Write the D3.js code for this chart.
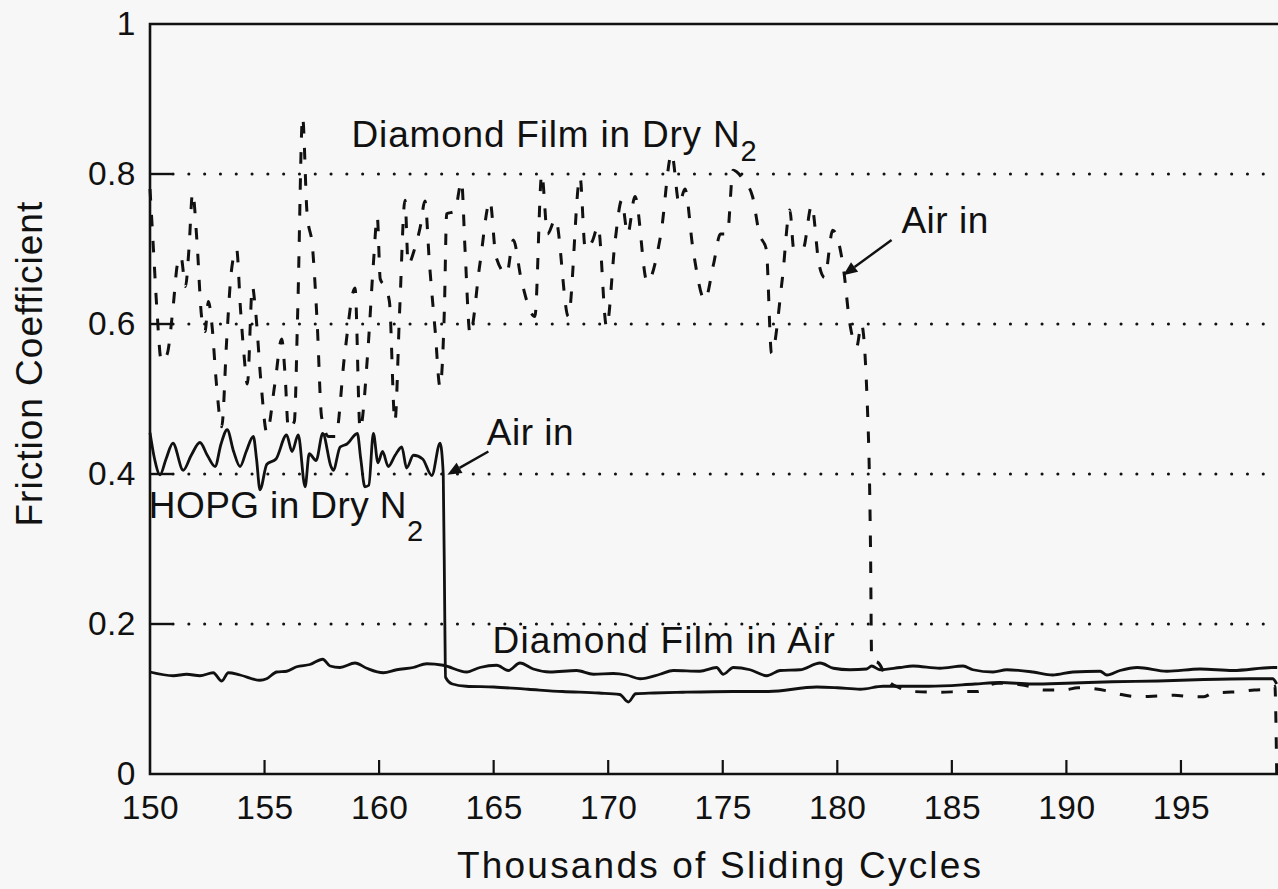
<!DOCTYPE html>
<html>
<head>
<meta charset="utf-8">
<script src="https://cdn.jsdelivr.net/npm/d3@7"></script>
<style>
  html, body { margin: 0; padding: 0; background: #f7f7f7; }
  svg { display: block; }
  text { font-family: "Liberation Sans", Arial, Helvetica, sans-serif; fill: #111; }
</style>
</head>
<body>
<svg id="chart" width="1278" height="889"></svg>
<script>
// Friction coefficient vs. thousands of sliding cycles

// Diamond film tested in dry nitrogen, then air let in (~181.5k cycles)
const diamondN2 = [
  [150.0,0.78],[150.15,0.70],[150.3,0.62],[150.5,0.55],[150.75,0.56],[151.0,0.62],[151.2,0.68],
  [151.35,0.69],[151.55,0.65],[151.7,0.70],[151.86,0.775],[152.05,0.71],[152.25,0.61],[152.4,0.59],
  [152.55,0.63],[152.7,0.60],[152.9,0.52],[153.13,0.463],[153.35,0.58],[153.55,0.67],[153.78,0.70],
  [153.95,0.62],[154.1,0.56],[154.25,0.52],[154.47,0.65],[154.6,0.62],[154.85,0.52],[155.1,0.455],
  [155.45,0.52],[155.75,0.58],[155.9,0.53],[156.04,0.46],[156.3,0.47],[156.45,0.62],[156.66,0.876],
  [156.85,0.75],[157.1,0.70],[157.3,0.60],[157.49,0.476],[157.8,0.45],[158.1,0.45],[158.5,0.56],
  [158.95,0.648],[159.17,0.46],[159.5,0.56],[159.75,0.68],[159.92,0.743],[160.05,0.66],[160.25,0.65],
  [160.45,0.63],[160.69,0.47],[160.9,0.62],[161.13,0.765],[161.27,0.68],[161.55,0.70],[161.8,0.73],
  [162.0,0.764],[162.2,0.68],[162.45,0.59],[162.66,0.516],[162.85,0.62],[162.95,0.747],[163.3,0.75],
  [163.6,0.79],[163.75,0.70],[163.97,0.587],[164.4,0.68],[164.84,0.764],[165.1,0.69],[165.57,0.667],
  [165.86,0.712],[166.2,0.66],[166.8,0.61],[167.1,0.80],[167.35,0.72],[167.7,0.74],[168.26,0.61],
  [168.77,0.796],[169.0,0.70],[169.3,0.71],[169.56,0.73],[169.93,0.596],[170.3,0.71],[170.59,0.765],
  [170.85,0.72],[171.17,0.77],[171.7,0.656],[172.3,0.72],[172.77,0.827],[173.1,0.76],[173.35,0.78],
  [173.7,0.70],[174.22,0.632],[174.6,0.68],[174.9,0.72],[175.2,0.72],[175.45,0.805],[175.95,0.79],
  [176.3,0.77],[176.6,0.72],[176.9,0.70],[177.13,0.561],[177.6,0.66],[177.93,0.752],[178.1,0.70],
  [178.5,0.70],[178.88,0.758],[179.2,0.68],[179.45,0.662],[179.8,0.725],[180.26,0.676],[180.55,0.60],
  [180.85,0.57],[181.05,0.60],[181.3,0.50],[181.45,0.30],[181.5,0.152],[181.8,0.148],[182.2,0.125],
  [182.7,0.115],[183.3,0.110],[184.5,0.109],[185.5,0.110],[186.1,0.110],[186.6,0.118],[187.0,0.121],
  [188.0,0.119],[188.5,0.116],[189.0,0.112],[189.9,0.112],[190.5,0.115],[191.1,0.114],[191.9,0.110],
  [192.4,0.106],[193.2,0.103],[194.0,0.104],[194.7,0.105],[195.5,0.103],[196.0,0.103],[196.4,0.108],
  [197.0,0.109],[197.6,0.110],[198.2,0.112],[198.8,0.113],[199.1,0.117],[199.18,0.0]
];

// HOPG tested in dry nitrogen, then air let in (~162.9k cycles)
const hopgN2 = [
  [150.0,0.455],[150.2,0.42],[150.44,0.399],[150.7,0.42],[151.0,0.441],[151.45,0.405],[151.8,0.425],
  [152.18,0.442],[152.5,0.425],[152.84,0.41],[153.1,0.44],[153.37,0.459],[153.65,0.43],[153.93,0.41],
  [154.2,0.43],[154.51,0.45],[154.65,0.42],[154.8,0.379],[155.1,0.413],[155.5,0.42],[155.96,0.452],
  [156.2,0.43],[156.47,0.452],[156.77,0.383],[156.95,0.427],[157.25,0.418],[157.54,0.454],[157.9,0.41],
  [158.0,0.405],[158.3,0.436],[158.6,0.44],[159.05,0.454],[159.2,0.42],[159.38,0.383],[159.55,0.385],
  [159.75,0.454],[159.95,0.415],[160.15,0.43],[160.4,0.41],[160.7,0.425],[160.99,0.436],[161.2,0.408],
  [161.5,0.425],[161.9,0.42],[162.3,0.398],[162.66,0.441],[162.8,0.40],[162.87,0.2],[162.9,0.129],
  [163.2,0.12],[163.8,0.117],[165.0,0.116],[166.5,0.113],[168.0,0.11],[169.6,0.108],[170.5,0.106],
  [170.88,0.096],[171.2,0.107],[172.0,0.108],[173.27,0.109],[175.45,0.11],[177.0,0.11],[179.1,0.116],
  [180.0,0.115],[181.0,0.113],[182.0,0.117],[184.0,0.117],[186.0,0.12],[187.1,0.122],[188.5,0.12],
  [190.0,0.121],[192.0,0.123],[194.0,0.124],[196.0,0.126],[198.0,0.127],[199.0,0.127],[199.18,0.12]
];

// Diamond film tested in air throughout
const diamondAir = [
  [150.0,0.136],[151.02,0.131],[151.6,0.133],[152.18,0.131],[152.76,0.135],[153.13,0.124],[153.42,0.135],
  [153.93,0.132],[154.8,0.125],[155.09,0.127],[155.53,0.136],[155.97,0.137],[156.4,0.143],[156.98,0.146],
  [157.54,0.153],[157.86,0.144],[158.29,0.142],[158.95,0.148],[159.46,0.141],[160.18,0.135],[160.77,0.139],
  [161.49,0.142],[162.08,0.147],[162.8,0.145],[163.82,0.136],[164.4,0.142],[165.13,0.145],[165.64,0.138],
  [166.15,0.148],[166.73,0.14],[167.46,0.136],[168.62,0.138],[169.35,0.133],[170.22,0.134],[170.8,0.132],
  [171.39,0.127],[172.26,0.133],[172.84,0.138],[174.0,0.137],[174.73,0.142],[175.02,0.133],[175.46,0.142],
  [176.19,0.139],[176.92,0.131],[177.5,0.138],[178.37,0.139],[179.25,0.148],[179.83,0.141],[180.55,0.139],
  [181.28,0.140],[181.5,0.144],[181.86,0.139],[182.74,0.142],[183.3,0.144],[184.48,0.141],[185.49,0.144],
  [185.92,0.139],[186.8,0.136],[187.4,0.139],[188.54,0.136],[189.4,0.132],[190.29,0.136],[191.47,0.137],
  [191.77,0.132],[192.34,0.138],[193.1,0.142],[194.39,0.137],[195.83,0.14],[197.27,0.138],[199.02,0.142],
  [199.2,0.142]
];

const xTicks = [150, 155, 160, 165, 170, 175, 180, 185, 190, 195];
const yTicks = [0, 0.2, 0.4, 0.6, 0.8, 1];
const gridValues = [0.2, 0.4, 0.6, 0.8];

// Text annotations placed in data coordinates
const labels = [
  { text: "Diamond Film in Dry N", sub: "2", x: 158.8, y: 0.836, subDy: 14, spacing: 0.8 },
  { text: "HOPG in Dry N", sub: "2", x: 149.95, y: 0.342, subDy: 23, spacing: 0.4 },
  { text: "Diamond Film in Air", x: 164.95, y: 0.161, spacing: 1.2 },
  { text: "Air in", x: 182.8, y: 0.722, spacing: 0.5 },
  { text: "Air in", x: 164.7, y: 0.439, spacing: 0.5 }
];
const arrows = [
  { from: [182.37, 0.712], to: [180.26, 0.665] },
  { from: [164.77, 0.430], to: [162.98, 0.399] }
];

const W = 1278, H = 889;
const svg = d3.select("#chart");
svg.append("rect").attr("width", W).attr("height", H).attr("fill", "#f7f7f7");

const x = d3.scaleLinear().domain([150, 200]).range([150, 150 + 50 * 22.91]);
const y = d3.scaleLinear().domain([0, 1]).range([774, 24]);
const xRight = W; // figure is cut at the window edge

const ink = "#111";

// dotted horizontal grid
svg.append("g").selectAll("line").data(gridValues).join("line")
  .attr("x1", x(150) + 23).attr("x2", xRight)
  .attr("y1", d => y(d)).attr("y2", d => y(d))
  .attr("stroke", ink).attr("stroke-width", 3)
  .attr("stroke-linecap", "round")
  .attr("stroke-dasharray", "0.1,15.7");

// axes
const xAxis = d3.axisBottom(x).tickValues(xTicks).tickSize(0).tickPadding(21).tickFormat(d3.format("d"));
const gx = svg.append("g").attr("transform", `translate(0,${y(0)})`).call(xAxis);
gx.select(".domain").remove();
gx.selectAll("text").attr("font-size", 33.5).attr("fill", ink).attr("letter-spacing", 0.5)
  .attr("font-family", '"Liberation Sans", Arial, sans-serif');

const yAxis = d3.axisLeft(y).tickValues(yTicks).tickSize(0).tickPadding(14)
  .tickFormat(d => d === 0 ? "0" : d === 1 ? "1" : d3.format(".1f")(d));
const gy = svg.append("g").attr("transform", `translate(${x(150)},0)`).call(yAxis);
gy.select(".domain").remove();
gy.selectAll("text").attr("font-size", 33.5).attr("fill", ink).attr("letter-spacing", 0.5)
  .attr("font-family", '"Liberation Sans", Arial, sans-serif');

// inward tick marks
svg.append("g").selectAll("line").data(xTicks.filter(d => d > 150)).join("line")
  .attr("x1", d => x(d)).attr("x2", d => x(d))
  .attr("y1", y(0)).attr("y2", y(0) - 14)
  .attr("stroke", ink).attr("stroke-width", 2.2);
svg.append("g").selectAll("line").data(yTicks.filter(d => d > 0 && d < 1)).join("line")
  .attr("x1", x(150)).attr("x2", x(150) + 22)
  .attr("y1", d => y(d)).attr("y2", d => y(d))
  .attr("stroke", ink).attr("stroke-width", 2.4);

// frame: left, bottom, top
svg.append("path")
  .attr("d", `M${xRight},${y(1)}H${x(150)}V${y(0)}H${xRight}`)
  .attr("fill", "none").attr("stroke", ink).attr("stroke-width", 2.6);

// data lines
const line = d3.line().x(d => x(d[0])).y(d => y(d[1])).curve(d3.curveMonotoneX);
svg.append("path").datum(diamondAir).attr("d", line)
  .attr("fill", "none").attr("stroke", ink).attr("stroke-width", 2.8).attr("stroke-linejoin", "round");
svg.append("path").datum(hopgN2).attr("d", line)
  .attr("fill", "none").attr("stroke", ink).attr("stroke-width", 2.8).attr("stroke-linejoin", "round");
svg.append("path").datum(diamondN2).attr("d", line)
  .attr("fill", "none").attr("stroke", ink).attr("stroke-width", 3)
  .attr("stroke-dasharray", "11.5,14.5");

// arrows
arrows.forEach(a => {
  const x0 = x(a.from[0]), y0 = y(a.from[1]), x1 = x(a.to[0]), y1 = y(a.to[1]);
  const ang = Math.atan2(y1 - y0, x1 - x0);
  const len = 14, half = 6;
  const bx = x1 - len * Math.cos(ang), by = y1 - len * Math.sin(ang);
  svg.append("line").attr("x1", x0).attr("y1", y0).attr("x2", bx).attr("y2", by)
    .attr("stroke", ink).attr("stroke-width", 2.4);
  const pts = [
    [x1, y1],
    [bx + half * Math.sin(ang), by - half * Math.cos(ang)],
    [bx - half * Math.sin(ang), by + half * Math.cos(ang)]
  ];
  svg.append("polygon").attr("points", pts.map(p => p.join(",")).join(" ")).attr("fill", ink);
});

// annotations
labels.forEach(l => {
  const t = svg.append("text").attr("x", x(l.x)).attr("y", y(l.y))
    .attr("font-size", 37).attr("letter-spacing", l.spacing);
  t.append("tspan").text(l.text);
  if (l.sub) t.append("tspan").attr("dy", l.subDy).attr("font-size", 29).text(l.sub);
});

// axis titles
svg.append("text").attr("x", 457).attr("y", 878)
  .attr("text-anchor", "start").attr("font-size", 37).attr("letter-spacing", 2.2)
  .text("Thousands of Sliding Cycles");
svg.append("text").attr("transform", `translate(42,${y(0.33)}) rotate(-90)`)
  .attr("text-anchor", "start").attr("font-size", 37).attr("letter-spacing", 1)
  .text("Friction Coefficient");
</script>
</body>
</html>
